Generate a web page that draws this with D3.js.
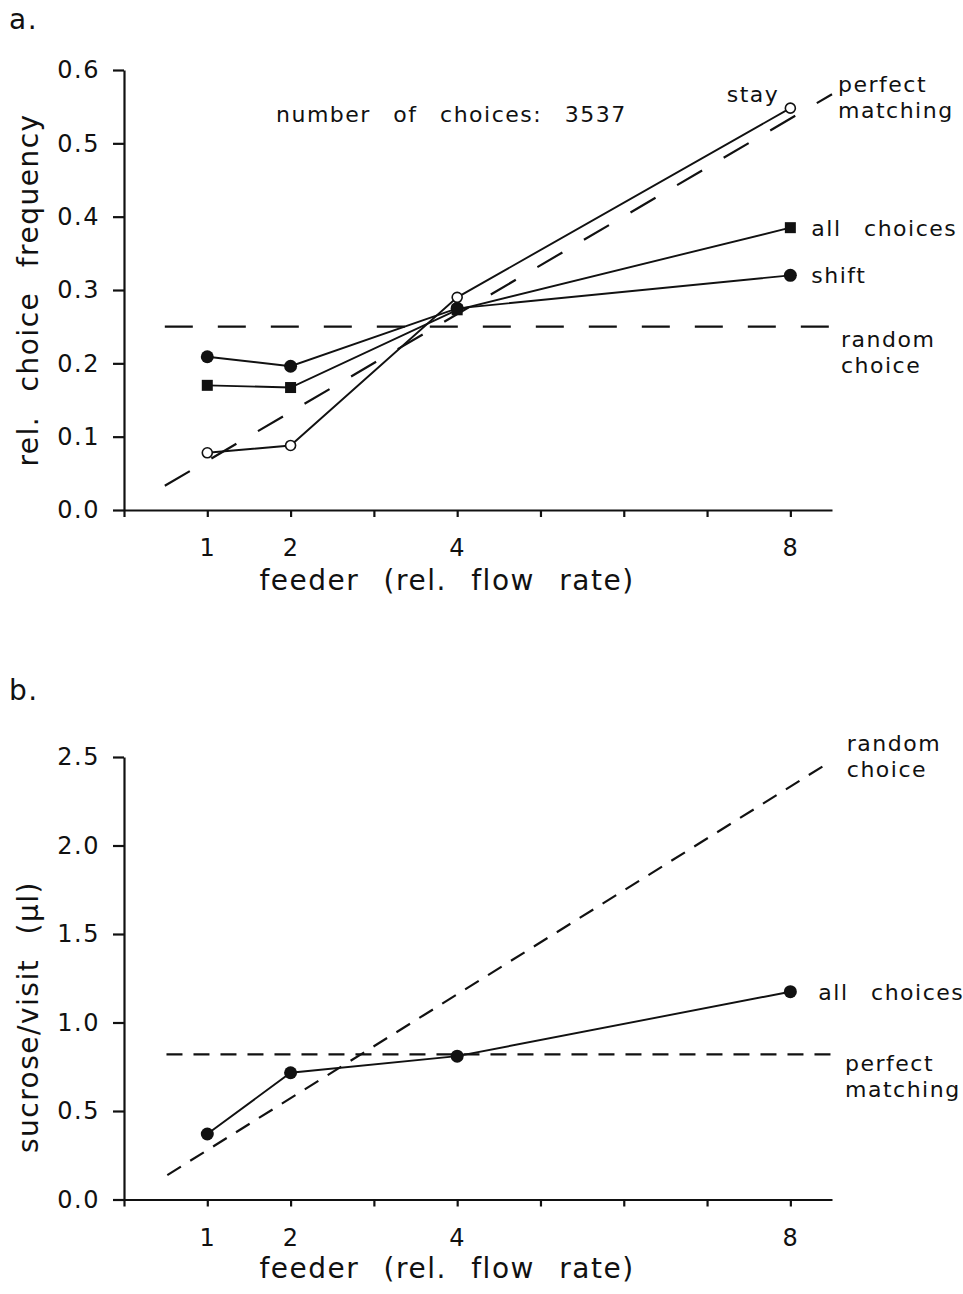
<!DOCTYPE html>
<html>
<head>
<meta charset="utf-8">
<script src="https://cdn.jsdelivr.net/npm/d3@7"></script>
<style>
  body { margin: 0; background: #fff; }
  svg text { font-family: "DejaVu Sans", sans-serif; fill: #111; }
  .axis path, .axis line { stroke: #111; stroke-width: 2.2; }
  .axis text { font-size: 24px; letter-spacing: 1.5px; }
  .note { font-size: 22px; letter-spacing: 1.5px; word-spacing: 14px; }
  .title { font-size: 28px; letter-spacing: 1.5px; word-spacing: 14px; }
</style>
</head>
<body>
<svg id="chart" width="963" height="1294"></svg>
<script>

// feeder categories (relative flow rate)
var feeders = [1, 2, 4, 8];
var xTicks = [0, 1, 2, 3, 4, 5, 6, 7, 8];
var xTickLabels = ["", "1", "2", "", "4", "", "", "", "8"];

// panel a: relative choice frequency
var stayFreq = [0.078, 0.088, 0.290, 0.548];
var allFreq = [0.170, 0.167, 0.273, 0.385];
var shiftFreq = [0.209, 0.196, 0.275, 0.320];
var matchLineX = [0.49, 8.5];
var matchLineFreq = [0.033, 0.567];
var randomLineX = [0.49, 8.5];
var randomFreq = 0.25;
var yTicksA = [0, 0.1, 0.2, 0.3, 0.4, 0.5, 0.6];

// panel b: sucrose per visit (µl)
var sucroseAll = [0.37, 0.716, 0.81, 1.174];
var perfectLineX = [0.51, 8.5];
var perfectSucrose = 0.82;
var randomLineXb = [0.52, 8.45];
var randomSucrose = [0.138, 2.465];
var yTicksB = [0, 0.5, 1.0, 1.5, 2.0, 2.5];

var svg = d3.select("#chart");

var x = d3.scaleLinear().domain([0, 8.5]).range([124, 832]);
var yA = d3.scaleLinear().domain([0, 0.6]).range([510, 70]);
var yB = d3.scaleLinear().domain([0, 2.5]).range([1199.5, 757]);

function drawAxes(y, ticks, fmt) {
    var xAxis = d3.axisBottom(x)
        .tickValues(xTicks)
        .tickFormat(function(d, i){ return xTickLabels[i]; })
        .tickSize(7).tickSizeOuter(0).tickPadding(22);
    svg.append("g").attr("class", "axis")
        .attr("transform", "translate(0," + y(0) + ")")
        .call(xAxis);

    var yAxis = d3.axisLeft(y)
        .tickValues(ticks)
        .tickFormat(d3.format(fmt))
        .tickSize(11).tickSizeOuter(0).tickPadding(13);
    svg.append("g").attr("class", "axis")
        .attr("transform", "translate(" + x(0) + ",0)")
        .call(yAxis);
}

function dashed(xs, ys, y, dash) {
    svg.append("line")
        .attr("x1", x(xs[0])).attr("y1", y(ys[0]))
        .attr("x2", x(xs[1])).attr("y2", y(ys[1]))
        .attr("stroke", "#111").attr("stroke-width", 2.2)
        .attr("stroke-dasharray", dash);
}

function series(vals, y) {
    var line = d3.line()
        .x(function(d, i){ return x(feeders[i]); })
        .y(function(d){ return y(d); });
    svg.append("path").datum(vals)
        .attr("d", line)
        .attr("fill", "none").attr("stroke", "#111").attr("stroke-width", 1.9);
}

function note(txt, px, py, cls, anchor) {
    svg.append("text").attr("class", cls || "note")
        .attr("x", px).attr("y", py)
        .attr("text-anchor", anchor || "start")
        .text(txt);
}

// ---------- panel a ----------
drawAxes(yA, yTicksA, ".1f");

dashed(randomLineX, [randomFreq, randomFreq], yA, "28,25");
dashed(matchLineX, matchLineFreq, yA, "29,25");

series(stayFreq, yA);
series(allFreq, yA);
series(shiftFreq, yA);

// shift: filled circles
svg.selectAll(".shiftDot").data(shiftFreq).enter().append("circle")
    .attr("cx", function(d, i){ return x(feeders[i]); })
    .attr("cy", function(d){ return yA(d); })
    .attr("r", 6.5).attr("fill", "#111");

// all choices: filled squares
svg.selectAll(".allSq").data(allFreq).enter().append("rect")
    .attr("x", function(d, i){ return x(feeders[i]) - 5.5; })
    .attr("y", function(d){ return yA(d) - 5.5; })
    .attr("width", 11).attr("height", 11).attr("fill", "#111");

// stay: open circles
svg.selectAll(".stayDot").data(stayFreq).enter().append("circle")
    .attr("cx", function(d, i){ return x(feeders[i]); })
    .attr("cy", function(d){ return yA(d); })
    .attr("r", 5).attr("fill", "#fff")
    .attr("stroke", "#111").attr("stroke-width", 1.6);

note("a.", 9, 29, "title");
note("number of choices: 3537", 276, 122);
note("stay", x(8) - 11, yA(stayFreq[3]) - 6, "note", "end");
note("perfect", x(8.5) + 6, yA(matchLineFreq[1]) - 2);
note("matching", x(8.5) + 6, yA(matchLineFreq[1]) + 24);
note("all choices", x(8) + 21, yA(allFreq[3]) + 8);
note("shift", x(8) + 21, yA(shiftFreq[3]) + 8);
note("random", x(8.5) + 9, yA(randomFreq) + 20);
note("choice", x(8.5) + 9, yA(randomFreq) + 46);

svg.append("text").attr("class", "title")
    .attr("text-anchor", "middle")
    .attr("transform", "translate(38," + yA(0.3) + ") rotate(-90)")
    .text("rel. choice frequency");
note("feeder (rel. flow rate)", 447, yA(0) + 80, "title", "middle");

// ---------- panel b ----------
drawAxes(yB, yTicksB, ".1f");

dashed(perfectLineX, [perfectSucrose, perfectSucrose], yB, "16,11");
dashed(randomLineXb, randomSucrose, yB, "16,11");

series(sucroseAll, yB);
svg.selectAll(".sucDot").data(sucroseAll).enter().append("circle")
    .attr("cx", function(d, i){ return x(feeders[i]); })
    .attr("cy", function(d){ return yB(d); })
    .attr("r", 6.5).attr("fill", "#111");

note("b.", 9, 700, "title");
note("random", x(8.45) + 19, yB(randomSucrose[1]) - 12);
note("choice", x(8.45) + 19, yB(randomSucrose[1]) + 14);
note("all choices", x(8) + 28, yB(sucroseAll[3]) + 8);
note("perfect", x(8.5) + 13, yB(perfectSucrose) + 17);
note("matching", x(8.5) + 13, yB(perfectSucrose) + 43);

svg.append("text").attr("class", "title")
    .attr("text-anchor", "middle")
    .attr("transform", "translate(38,1017) rotate(-90)")
    .text("sucrose/visit (µl)");
note("feeder (rel. flow rate)", 447, yB(0) + 78, "title", "middle");

</script>
</body>
</html>
